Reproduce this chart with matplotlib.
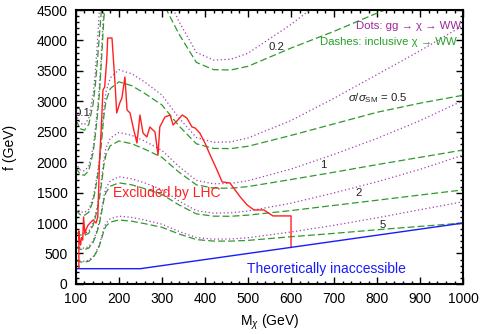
import matplotlib
matplotlib.use("Agg")
from matplotlib import pyplot as plt
from matplotlib.ticker import MultipleLocator

plt.rcParams["font.family"] = ["Liberation Sans", "DejaVu Sans"]
plt.rcParams["mathtext.fontset"] = "custom"
plt.rcParams["mathtext.rm"] = "Liberation Sans"
plt.rcParams["mathtext.it"] = "Liberation Sans:italic"

# mass grid (GeV) shared by all the contour curves
masses = [100, 110, 120, 130, 140, 145, 150, 155, 160, 165, 170, 180, 200,
          230, 260, 300, 340, 380, 420, 460, 500, 600, 700, 800, 900, 1000]

# dashes: inclusive chi -> WW, one list per sigma/sigma_SM level
incl_5 = [382, 360, 357, 372, 430, 485, 550, 630, 745, 870, 950, 1015, 1050,
          1030, 990, 930, 820, 728, 704, 703, 715, 775, 830, 890, 945, 1000]
incl_2 = [604, 569, 564, 588, 680, 767, 870, 996, 1178, 1376, 1502, 1605, 1660,
          1628, 1565, 1470, 1296, 1151, 1113, 1111, 1130, 1205, 1290, 1375, 1460, 1545]
incl_1 = [854, 805, 798, 832, 961, 1084, 1230, 1409, 1666, 1945, 2124, 2270, 2348,
          2303, 2214, 2079, 1834, 1628, 1574, 1572, 1599, 1715, 1835, 1960, 2080, 2200]
incl_05 = [1208, 1138, 1129, 1176, 1360, 1534, 1739, 1992, 2356, 2751, 3004, 3209, 3320,
           3257, 3130, 2941, 2593, 2302, 2226, 2223, 2261, 2440, 2630, 2820, 2970, 3100]
incl_02 = [1910, 1800, 1785, 1860, 2150, 2425, 2750, 3150, 3725, 4350, 4750, 5075, 5250,
           5150, 4950, 4650, 4100, 3640, 3520, 3515, 3575, 3875, 4150, 4450, 4725, 5000]

# dots: gg -> chi -> WW
gg_5 = [397, 374, 371, 387, 447, 504, 572, 655, 775, 909, 998, 1071, 1113,
        1092, 1049, 981, 861, 761, 736, 738, 758, 853, 963, 1086, 1219, 1350]
gg_2 = [628, 592, 587, 612, 707, 798, 905, 1036, 1225, 1438, 1577, 1693, 1760,
        1726, 1659, 1551, 1361, 1203, 1163, 1167, 1198, 1326, 1496, 1678, 1883, 2117]
gg_1 = [888, 837, 830, 865, 999, 1127, 1279, 1465, 1733, 2033, 2230, 2395, 2489,
        2441, 2347, 2193, 1926, 1701, 1645, 1651, 1695, 1887, 2129, 2391, 2683, 3014]
gg_05 = [1256, 1184, 1174, 1223, 1414, 1595, 1809, 2072, 2450, 2875, 3154, 3385, 3519,
         3452, 3318, 3103, 2723, 2406, 2326, 2334, 2397, 2684, 3051, 3440, 3831, 4247]
gg_02 = [1986, 1872, 1856, 1934, 2236, 2522, 2860, 3276, 3874, 4546, 4988, 5354, 5565,
         5459, 5247, 4906, 4305, 3804, 3678, 3691, 3790, 4263, 4814, 5429, 6095, 6850]

# the 0.1 level only shows up at low mass
masses_01 = [100, 110, 120, 130, 140, 145, 150, 155, 160, 165]
incl_01 = [2700, 2550, 2525, 2620, 2950, 3250, 3650, 4100, 4550, 5000]
gg_01 = [2790, 2640, 2615, 2720, 3100, 3450, 3950, 4550, 5100, 5600]

# LHC exclusion boundary
lhc_m = [107, 107, 109, 111, 113, 116, 118, 121, 124, 128, 133, 140, 147, 151,
         155, 160, 163, 167, 172, 174, 184, 191, 195, 202, 207, 214, 219, 226,
         233, 242, 249, 256, 265, 272, 284, 291, 295, 307, 319, 326, 337, 347,
         358, 370, 377, 388, 400, 412, 428, 440, 458, 470, 482, 498, 514, 537,
         558, 600, 600]
lhc_f = [260, 870, 700, 640, 760, 720, 1100, 820, 900, 960, 1000, 1050, 1000, 1100,
         2000, 2700, 3186, 3235, 3700, 4040, 4040, 3300, 2808, 2972, 3054, 3400, 2857, 2808,
         2578, 2315, 2775, 2480, 2414, 2578, 2496, 2118, 2578, 2742, 2775, 2611, 2693, 2775,
         2726, 2578, 2562, 2479, 2315, 2118, 1872, 1675, 1658, 1543, 1429, 1297, 1215, 1215,
         1117, 1117, 600]

# theoretical limit f = max(250, M)
theory_m = [100, 250, 1000]
theory_f = [250, 250, 1000]

PURPLE = "#a43cb4"
GREEN = "#2e9a2e"

fig = plt.figure(figsize=(4.83, 3.34), dpi=100)
ax = fig.add_axes([0.157, 0.150, 0.802, 0.820])

dot_style = dict(color=PURPLE, lw=0.9, dashes=(1.0, 2.0))
dash_style = dict(color=GREEN, lw=0.9, dashes=(5.5, 2.5))

for ys in [gg_5, gg_2, gg_1, gg_05, gg_02]:
    ax.plot(masses, ys, **dot_style)
for ys in [incl_5, incl_2, incl_1, incl_05, incl_02]:
    ax.plot(masses, ys, **dash_style)
ax.plot(masses_01, gg_01, **dot_style)
ax.plot(masses_01, incl_01, **dash_style)

ax.plot(lhc_m, lhc_f, color="#ff2020", lw=1.0)
ax.plot(theory_m, theory_f, color="#1a1aff", lw=1.0)

ax.set_xlim(100, 1000)
ax.set_ylim(0, 4500)
ax.xaxis.set_major_locator(MultipleLocator(100))
ax.xaxis.set_minor_locator(MultipleLocator(20))
ax.yaxis.set_major_locator(MultipleLocator(500))
ax.yaxis.set_minor_locator(MultipleLocator(100))
ax.tick_params(which="both", direction="in", top=True, right=True, labelsize=10)
ax.tick_params(which="major", length=5, width=1)
ax.tick_params(which="minor", length=2.5, width=1)
ax.tick_params(axis="x", pad=6)
ax.tick_params(axis="y", pad=6)
for sp in ax.spines.values():
    sp.set_linewidth(1.5)

ax.set_xlabel(r"M$_\chi$ (GeV)", fontsize=10, labelpad=5)
ax.set_ylabel("f (GeV)", fontsize=10, labelpad=14)

ax.text(186, 1494, "Excluded by LHC", color="#ff2020", fontsize=10, va="center")
ax.text(683, 246, "Theoretically inaccessible", color="#1a1aff", fontsize=10,
        ha="center", va="center")
ax.text(995, 4237, "Dots: gg → χ → WW", color="#9a2a9a", fontsize=8.2,
        ha="right", va="center")
ax.text(985, 3974, "Dashes: inclusive χ → WW", color="#26a026", fontsize=8.2,
        ha="right", va="center")

lbl = dict(fontsize=8.2, color="#222222", ha="center", va="center")
ax.text(116, 2808, "0.1", **lbl)
ax.text(565, 3892, "0.2", **lbl)
ax.text(802, 3054, r"$\sigma/\sigma_{\rm SM}$ = 0.5", **lbl)
ax.text(675, 1954, "1", **lbl)
ax.text(756, 1494, "2", **lbl)
ax.text(812, 969, "5", **lbl)

fig.savefig("out.png", dpi=100)
